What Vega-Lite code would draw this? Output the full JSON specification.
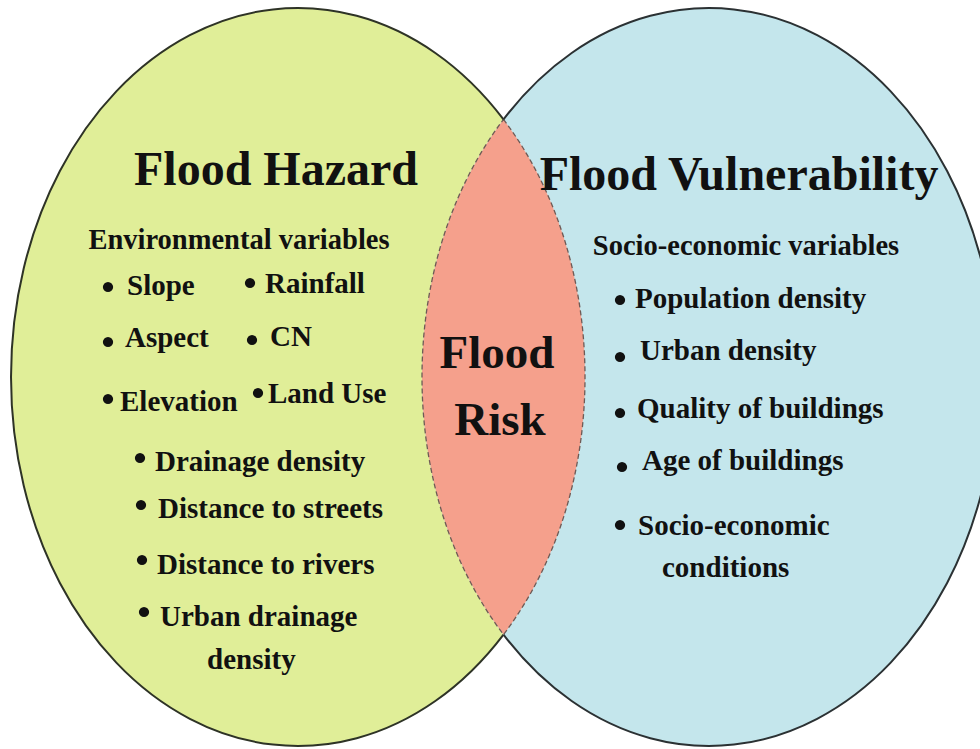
{
  "$schema": "https://vega.github.io/schema/vega-lite/v6.json",
  "width": 980,
  "height": 749,
  "padding": 0,
  "autosize": {"type": "none"},
  "background": "white",
  "config": {"view": {"stroke": null}},
  "datasets": {
    "shapes": [
      {"name": "hazard", "x": 298, "y": 377},
      {"name": "vulnerability", "x": 709, "y": 377},
      {"name": "risk", "x": 503.5, "y": 377}
    ],
    "labels": [
      {"g": "title", "t": "Flood Hazard", "x": 276, "y": 185},
      {"g": "title", "t": "Flood Vulnerability", "x": 739, "y": 190},
      {"g": "risk", "t": "Flood", "x": 497, "y": 368},
      {"g": "risk", "t": "Risk", "x": 500, "y": 435},
      {"g": "head", "t": "Environmental variables", "x": 239, "y": 249},
      {"g": "head", "t": "Socio-economic variables", "x": 746, "y": 255},
      {"g": "item", "t": "Slope", "x": 127, "y": 295},
      {"g": "item", "t": "Rainfall", "x": 265, "y": 293},
      {"g": "item", "t": "Aspect", "x": 125, "y": 347},
      {"g": "item", "t": "CN", "x": 270, "y": 346},
      {"g": "item", "t": "Elevation", "x": 120, "y": 411},
      {"g": "item", "t": "Land Use", "x": 268, "y": 403},
      {"g": "item", "t": "Drainage density", "x": 155, "y": 471},
      {"g": "item", "t": "Distance to streets", "x": 158, "y": 518},
      {"g": "item", "t": "Distance to rivers", "x": 157, "y": 574},
      {"g": "item", "t": "Urban drainage", "x": 160, "y": 626},
      {"g": "item", "t": "density", "x": 207, "y": 669},
      {"g": "item", "t": "Population density", "x": 635, "y": 308},
      {"g": "item", "t": "Urban density", "x": 640, "y": 360},
      {"g": "item", "t": "Quality of buildings", "x": 637, "y": 418},
      {"g": "item", "t": "Age of buildings", "x": 642, "y": 470},
      {"g": "item", "t": "Socio-economic", "x": 638, "y": 535},
      {"g": "item", "t": "conditions", "x": 662, "y": 577}
    ],
    "bullets": [
      {"x": 108, "y": 287}, {"x": 250, "y": 283},
      {"x": 108, "y": 342}, {"x": 252, "y": 340},
      {"x": 108, "y": 399}, {"x": 258, "y": 393},
      {"x": 140, "y": 458}, {"x": 141, "y": 505},
      {"x": 142, "y": 560}, {"x": 144, "y": 612},
      {"x": 620, "y": 300}, {"x": 620, "y": 357},
      {"x": 620, "y": 413}, {"x": 622, "y": 467},
      {"x": 620, "y": 525}
    ]
  },
  "encoding": {
    "x": {"field": "x", "type": "quantitative", "scale": {"domain": [0, 980], "nice": false, "zero": false}, "axis": null},
    "y": {"field": "y", "type": "quantitative", "scale": {"domain": [0, 749], "nice": false, "zero": false, "reverse": true}, "axis": null}
  },
  "layer": [
    {
      "data": {"name": "shapes"},
      "transform": [{"filter": "datum.name === 'hazard'"}],
      "mark": {"type": "point", "shape": "M -287 0 A 287 369 0 1 0 287 0 A 287 369 0 1 0 -287 0 Z", "size": 4, "filled": true, "fill": "#e0ee98", "opacity": 1, "strokeWidth": 0}
    },
    {
      "data": {"name": "shapes"},
      "transform": [{"filter": "datum.name === 'vulnerability'"}],
      "mark": {"type": "point", "shape": "M -287 0 A 287 369 0 1 0 287 0 A 287 369 0 1 0 -287 0 Z", "size": 4, "filled": true, "fill": "#c4e6ec", "opacity": 1, "strokeWidth": 0}
    },
    {
      "data": {"name": "shapes"},
      "transform": [{"filter": "datum.name === 'risk'"}],
      "mark": {"type": "point", "shape": "M 0 -257.6 A 287 369 0 0 1 0 257.6 A 287 369 0 0 1 0 -257.6 Z", "size": 4, "filled": true, "fill": "#f5a08c", "opacity": 1, "stroke": "#6e5a55", "strokeWidth": 1.3, "strokeDash": [5, 3]}
    },
    {
      "data": {"name": "shapes"},
      "transform": [{"filter": "datum.name === 'hazard'"}],
      "mark": {"type": "point", "shape": "M 205.5 -257.6 A 287 369 0 1 0 205.5 257.6", "size": 4, "filled": false, "stroke": "#2e3326", "strokeWidth": 2, "opacity": 1}
    },
    {
      "data": {"name": "shapes"},
      "transform": [{"filter": "datum.name === 'vulnerability'"}],
      "mark": {"type": "point", "shape": "M -205.5 -257.6 A 287 369 0 1 1 -205.5 257.6", "size": 4, "filled": false, "stroke": "#2b3133", "strokeWidth": 2, "opacity": 1}
    },
    {
      "data": {"name": "bullets"},
      "mark": {"type": "circle", "size": 105, "color": "#111111", "opacity": 1}
    },
    {
      "data": {"name": "labels"},
      "transform": [{"filter": "datum.g === 'title'"}],
      "mark": {"type": "text", "font": "Liberation Serif", "fontWeight": "bold", "fontSize": 48, "align": "center", "baseline": "alphabetic", "color": "#111111"},
      "encoding": {"text": {"field": "t"}}
    },
    {
      "data": {"name": "labels"},
      "transform": [{"filter": "datum.g === 'risk'"}],
      "mark": {"type": "text", "font": "Liberation Serif", "fontWeight": "bold", "fontSize": 47, "align": "center", "baseline": "alphabetic", "color": "#111111"},
      "encoding": {"text": {"field": "t"}}
    },
    {
      "data": {"name": "labels"},
      "transform": [{"filter": "datum.g === 'head'"}],
      "mark": {"type": "text", "font": "Liberation Serif", "fontWeight": "bold", "fontSize": 28.5, "align": "center", "baseline": "alphabetic", "color": "#111111"},
      "encoding": {"text": {"field": "t"}}
    },
    {
      "data": {"name": "labels"},
      "transform": [{"filter": "datum.g === 'item'"}],
      "mark": {"type": "text", "font": "Liberation Serif", "fontWeight": "bold", "fontSize": 29, "align": "left", "baseline": "alphabetic", "color": "#111111"},
      "encoding": {"text": {"field": "t"}}
    }
  ]
}
